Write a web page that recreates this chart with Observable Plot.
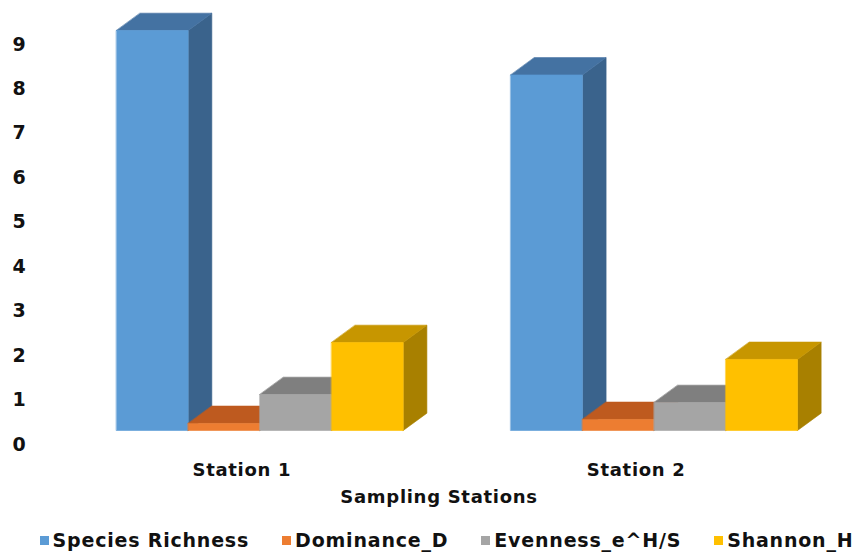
<!DOCTYPE html>
<html>
<head>
<meta charset="utf-8">
<script src="https://cdn.jsdelivr.net/npm/d3@7"></script>
<script src="https://cdn.jsdelivr.net/npm/@observablehq/plot@0.6"></script>
<style>
  html, body { margin: 0; padding: 0; background: #fff; }
  body { width: 863px; height: 553px; overflow: hidden; font-family: "DejaVu Sans", Verdana, sans-serif; }
  #legend { display: flex; justify-content: center; align-items: center; gap: 33px; font-weight: bold; font-size: 19px; letter-spacing: 0.8px; color: #111; margin-top: 9px; line-height: 22px; padding-left: 30px; }
  #legend .item { display: flex; align-items: center; }
  #legend .sw { width: 9px; height: 9px; margin-right: 4px; display: inline-block; }
</style>
</head>
<body>
<div id="chart"></div>
<div id="legend"></div>
<script>
// ---- data ----
const stations = ["Station 1", "Station 2"];
const seriesNames = ["Species Richness", "Dominance_D", "Evenness_e^H/S", "Shannon_H"];
const speciesRichness = [9, 8];
const dominanceD = [0.16, 0.25];
const evennessEHS = [0.81, 0.63];
const shannonH = [1.98, 1.6];
const yTicks = [0, 1, 2, 3, 4, 5, 6, 7, 8, 9];

// ---- styles ----
const frontColors = ["#5B9BD5", "#ED7D31", "#A5A5A5", "#FFC000"];
const topColors   = ["#4472A2", "#BE5A1F", "#7F7F7F", "#C79600"];
const sideColors  = ["#3A638C", "#A9511A", "#6E6E6E", "#A88000"];

// ---- layout (slot units on x, value units on y) ----
const groupStep = 5.5;   // distance between station groups, in bar widths
const depthX = 0.33;     // 3-D depth offset along x (bar widths)
const depthY = 0.39;     // 3-D depth offset along y (value units)

const seriesValues = [speciesRichness, dominanceD, evennessEHS, shannonH];

// Build polygons for each bar face, in painter's order
const faces = [];
stations.forEach((st, g) => {
  seriesNames.forEach((name, s) => {
    const v = seriesValues[s][g];
    const x0 = g * groupStep + s, x1 = x0 + 1;
    const id = `${g}-${s}`;
    const poly = (face, color, pts) => pts.forEach(([x, y]) => faces.push({id: id + face, color, x, y}));
    poly("side", sideColors[s], [[x1, 0], [x1 + depthX, depthY], [x1 + depthX, v + depthY], [x1, v]]);
    poly("top", topColors[s], [[x0, v], [x1, v], [x1 + depthX, v + depthY], [x0 + depthX, v + depthY]]);
    poly("front", frontColors[s], [[x0, 0], [x1, 0], [x1, v], [x0, v]]);
  });
});

const stationLabels = stations.map((st, g) => ({label: st, x: g * groupStep + 2}));

const chart = Plot.plot({
  width: 863,
  height: 520,
  marginLeft: 116,
  marginRight: 66,
  marginTop: 30,
  marginBottom: 90,
  style: {fontFamily: "DejaVu Sans, Verdana, sans-serif", color: "#111", background: "#fff", letterSpacing: "0.7px"},
  x: {type: "linear", domain: [0, groupStep + 4], axis: null},
  y: {domain: [0, 9], axis: null},
  color: {type: "identity"},
  marks: [
    Plot.line(faces, {x: "x", y: "y", z: "id", fill: "color", stroke: "color", strokeWidth: 0.6, curve: "linear-closed"}),
    Plot.axisY(yTicks, {tickSize: 0, tickPadding: 90, dy: 14, fontSize: 19, fontWeight: "bold", label: null, tickFormat: d => String(d)}),
    Plot.text(stationLabels, {x: "x", y: 0, text: "label", dx: -18, dy: 40, fontSize: 18, fontWeight: "bold"}),
    Plot.text(["Sampling Stations"], {frameAnchor: "bottom", text: d => d, dx: -18, dy: 72, fontSize: 18, fontWeight: "bold"})
  ]
});
document.getElementById("chart").appendChild(chart);

const legend = document.getElementById("legend");
seriesNames.forEach((name, i) => {
  const item = document.createElement("span");
  item.className = "item";
  const sw = document.createElement("span");
  sw.className = "sw";
  sw.style.background = frontColors[i];
  item.appendChild(sw);
  item.appendChild(document.createTextNode(name));
  legend.appendChild(item);
});
</script>
</body>
</html>
